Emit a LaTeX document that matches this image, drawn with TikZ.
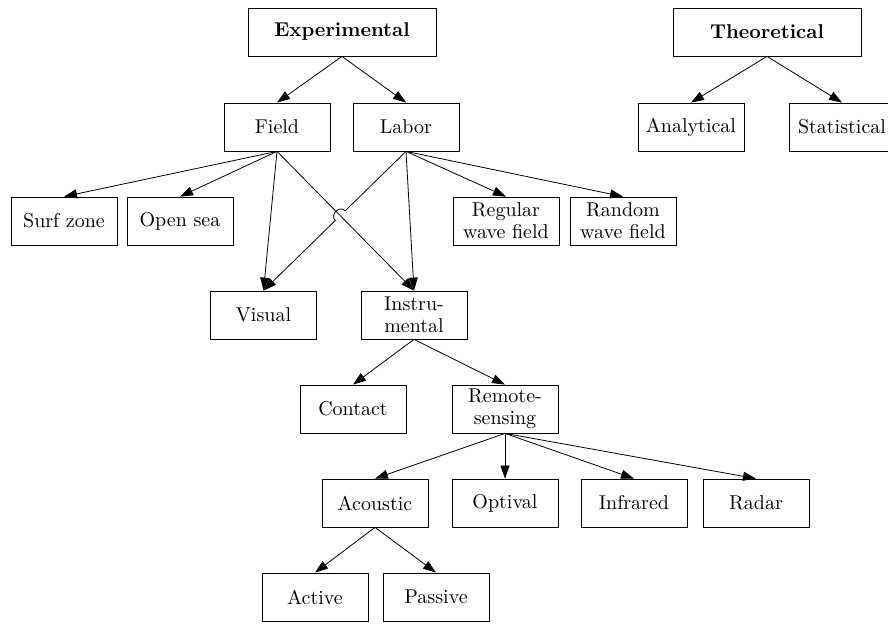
\documentclass[tikz,border=0pt]{standalone}
\usetikzlibrary{arrows.meta,calc}
\begin{document}
\begin{tikzpicture}[x=0.5pt, y=-0.5pt,
  box/.style={draw, minimum width=53pt, minimum height=24pt, inner sep=2pt, align=center, font=\fontsize{10}{11}\selectfont},
  headbox/.style={box, minimum width=94pt, font=\fontsize{10}{11}\selectfont\bfseries},
  edge/.style={-{Triangle[length=6.5pt,width=4.5pt]}}]
\clip (0,0) rectangle (888,624);

% Top level
\node[headbox] (exp) at (342,32) {Experimental};
\node[headbox] (theo) at (767,32) {Theoretical};

% Second level
\node[box] (field) at (277,127) {Field};
\node[box] (labor) at (406,127) {Labor};
\node[box] (ana) at (691,127) {Analytical};
\node[box] (stat) at (842,127) {Statistical};

% Field and labor conditions
\node[box] (surf) at (64,221) {Surf zone};
\node[box] (opensea) at (180,221) {Open sea};
\node[box] (regular) at (506,221) {Regular\\wave field};
\node[box] (random) at (623,221) {Random\\wave field};

% Methods
\node[box] (visual) at (263.5,315) {Visual};
\node[box] (instr) at (414,315) {Instru-\\mental};
\node[box] (contact) at (353,409) {Contact};
\node[box] (remote) at (505,409) {Remote-\\sensing};

% Sensors
\node[box] (acoustic) at (375,503) {Acoustic};
\node[box] (optival) at (505,503) {Optival};
\node[box] (infrared) at (634,503) {Infrared};
\node[box] (radar) at (756,503) {Radar};
\node[box] (active) at (315,597) {Active};
\node[box] (passive) at (436,597) {Passive};

% Edges
\draw[edge] (exp.south) -- (field.north);
\draw[edge] (exp.south) -- (labor.north);
\draw[edge] (theo.south) -- (ana.north);
\draw[edge] (theo.south) -- (stat.north);
\foreach \child in {surf, opensea, visual, instr}
  \draw[edge] (field.south) -- (\child.north);
\foreach \child in {instr, regular, random}
  \draw[edge] (labor.south) -- (\child.north);
% Labor to visual hops over field to instrumental
\coordinate (cross) at (intersection of field.south--instr.north and labor.south--visual.north);
\draw[edge] (labor.south) -- ($(cross)!3.5pt!(labor.south)$)
  to[bend right=90, looseness=1.5] ($(cross)!3.5pt!(visual.north)$) -- (visual.north);
\draw[edge] (instr.south) -- (contact.north);
\draw[edge] (instr.south) -- (remote.north);
\foreach \child in {acoustic, optival, infrared, radar}
  \draw[edge] (remote.south) -- (\child.north);
\draw[edge] (acoustic.south) -- (active.north);
\draw[edge] (acoustic.south) -- (passive.north);
\end{tikzpicture}
\end{document}
